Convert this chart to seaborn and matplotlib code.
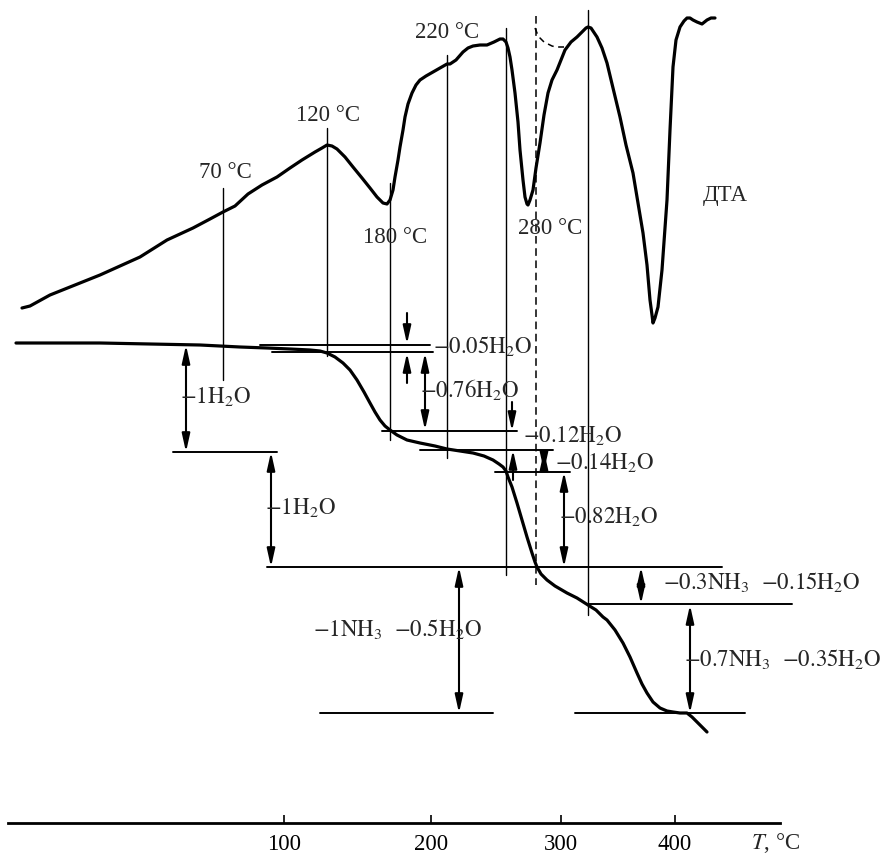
import numpy as np
import pandas as pd
import seaborn as sns
import matplotlib
matplotlib.use("Agg")
import matplotlib.pyplot as plt

# chart is a schematic thermogram: positions are in chart units (x along record, y down from top)
dta_x = [22, 30, 50, 75, 100, 120, 140, 167, 193, 210, 223, 235, 248, 262, 277, 290, 302, 315, 322, 327,
         332, 337, 345, 353, 362, 370, 377, 383, 387, 390, 393, 395, 398, 400, 403, 405, 408, 412, 416, 420,
         426, 433, 440, 447, 450, 456, 463, 468, 473, 480, 487, 494, 500, 503, 506, 508, 510, 512, 515, 518,
         520, 523, 525, 527, 528, 530, 533, 536, 540, 544, 548, 552, 557, 561, 565, 571, 577, 582, 586, 588,
         591, 597, 602, 607, 613, 620, 626, 633, 638, 643, 647, 650, 652, 653, 655, 658, 662, 667, 670, 673,
         676, 680, 684, 687, 690, 693, 697, 702, 707, 711, 715]
dta_y = [308, 306, 295, 285, 275, 266, 257, 240, 228, 219, 212, 206, 194, 185, 177, 168, 160, 152, 148, 145,
         146, 149, 157, 167, 178, 188, 197, 203, 204, 200, 190, 177, 160, 147, 130, 117, 104, 93, 85, 80,
         76, 72, 68, 64, 64, 60, 52, 48, 46, 45, 45, 42, 39, 39, 42, 48, 57, 70, 93, 122,
         150, 180, 197, 204, 205, 200, 190, 168, 143, 115, 93, 80, 70, 60, 50, 42, 37, 32, 28, 27,
         28, 37, 48, 63, 88, 117, 145, 173, 203, 233, 265, 300, 315, 323, 318, 307, 270, 200, 130, 67,
         40, 27, 21, 18, 18, 20, 22, 24, 20, 18, 18]

tg_x = [16, 60, 100, 150, 200, 240, 267, 290, 310, 320, 327, 335, 343, 350, 357, 364, 370, 375, 380, 385,
        390, 397, 407, 420, 435, 447, 460, 473, 484, 493, 499, 503, 506, 508, 510, 512, 517, 522, 527, 532,
        535, 537, 541, 547, 555, 567, 577, 588, 596, 603, 607, 615, 623, 630, 637, 642, 647, 653, 660, 667,
        673, 680, 687, 692, 697, 702, 707]
tg_y = [343, 343, 343, 344, 345, 347, 348, 349, 350, 351, 353, 357, 363, 370, 380, 392, 403, 412, 420, 426,
        430, 435, 440, 443, 446, 449, 451, 453, 456, 460, 464, 467, 471, 477, 482, 487, 503, 520, 537, 553,
        562, 567, 574, 580, 586, 593, 598, 605, 610, 617, 620, 630, 643, 657, 673, 684, 693, 702, 708, 711,
        712, 713, 713, 717, 722, 727, 732]

arc_x = [535, 537, 540, 544, 548, 552, 556, 560, 564]
arc_y = [28, 33, 38, 42, 44, 46, 47, 47, 47]

# vertical reference lines
vline_x = [223, 327, 390, 447, 506, 588]
vline_top = [188, 128, 183, 55, 28, 10]
vline_bottom = [380, 356, 440, 458, 575, 615]
dash_x, dash_top, dash_bottom = 536, 16, 585

temp_labels = ["70 °C", "120 °C", "180 °C", "220 °C", "280 °C"]
temp_label_x = [225, 328, 395, 447, 550]
temp_label_y = [172, 115, 237, 32, 228]

# horizontal step lines of the TG curve
hline_y = [345, 352, 431, 450, 472, 452, 567, 604, 713, 713]
hline_x0 = [260, 272, 382, 420, 495, 173, 267, 587, 320, 575]
hline_x1 = [430, 433, 517, 553, 570, 277, 722, 792, 493, 745]

# arrows: x, start, end, kind
arrow_x = [186, 271, 407, 407, 425, 512, 513, 544, 564, 641, 690, 459]
arrow_y0 = [345, 452, 313, 383, 353, 402, 480, 451, 472, 567, 605, 567]
arrow_y1 = [452, 567, 344, 353, 430, 431, 450, 471, 567, 604, 713, 713]
arrow_kind = ["both", "both", "one", "one", "both", "one", "one", "both", "both", "both", "both", "both"]

loss_labels = [r"$\mathrm{-1H_2O}$", r"$\mathrm{-1H_2O}$", r"$\mathrm{-0.05H_2O}$", r"$\mathrm{-0.76H_2O}$",
               r"$\mathrm{-0.12H_2O}$", r"$\mathrm{-0.14H_2O}$", r"$\mathrm{-0.82H_2O}$",
               r"$\mathrm{-0.3NH_3}$  $\mathrm{-0.15H_2O}$", r"$\mathrm{-0.7NH_3}$  $\mathrm{-0.35H_2O}$",
               r"$\mathrm{-1NH_3}$  $\mathrm{-0.5H_2O}$"]
loss_x = [180, 265, 433, 420, 523, 555, 559, 663, 684, 313]
loss_y = [397, 508, 347, 390, 436, 463, 517, 583, 660, 630]

tick_pos = [284, 431, 561, 675]
tick_labels = ["100", "200", "300", "400"]

sns.set_theme(style="white")
plt.rcParams["font.family"] = ["Liberation Serif", "DejaVu Serif"]
plt.rcParams["mathtext.fontset"] = "stix"
fs = 16.5

fig = plt.figure(figsize=(8.88, 8.57), dpi=100)
ax = fig.add_axes([0, 34 / 857, 1, 823 / 857])
ax.set_xlim(0, 888)
ax.set_ylim(823, 0)

dta = pd.DataFrame({"x": dta_x, "y": dta_y})
tg = pd.DataFrame({"x": tg_x, "y": tg_y})
sns.lineplot(data=dta, x="x", y="y", estimator=None, sort=False, color="black", lw=2.3, ax=ax)
sns.lineplot(data=tg, x="x", y="y", estimator=None, sort=False, color="black", lw=2.3, ax=ax)
ax.plot(arc_x, arc_y, color="black", lw=1.1, ls=(0, (4, 3)))

for x, t, b in zip(vline_x, vline_top, vline_bottom):
    ax.plot([x, x], [t, b], color="black", lw=1.0)
ax.plot([dash_x, dash_x], [dash_top, dash_bottom], color="black", lw=1.1, ls=(0, (5, 3)))

for y, x0, x1 in zip(hline_y, hline_x0, hline_x1):
    ax.plot([x0, x1], [y, y], color="black", lw=1.4)

for x, y0, y1, kind in zip(arrow_x, arrow_y0, arrow_y1, arrow_kind):
    style = "<|-|>" if kind == "both" else "-|>"
    ax.annotate("", xy=(x, y1), xytext=(x, y0),
                arrowprops=dict(arrowstyle=style + ",head_length=0.9,head_width=0.2",
                                color="black", lw=1.5, shrinkA=0, shrinkB=0))

for lab, x, y in zip(temp_labels, temp_label_x, temp_label_y):
    ax.text(x, y, lab, fontsize=fs, ha="center", va="center")
ax.text(725, 195, "ДТА", fontsize=fs, ha="center", va="center")

for lab, x, y in zip(loss_labels, loss_x, loss_y):
    ax.text(x, y, lab, fontsize=fs, ha="left", va="center")

for s in ["top", "right", "left"]:
    ax.spines[s].set_visible(False)
ax.spines["bottom"].set_bounds(8, 780)
ax.spines["bottom"].set_linewidth(2.0)
ax.spines["bottom"].set_color("black")
ax.set_xticks(tick_pos)
ax.set_xticklabels(tick_labels)
ax.set_yticks([])
ax.tick_params(axis="x", bottom=True, direction="in", length=6, width=1.2, pad=8,
               labelsize=fs, colors="black")
ax.set_xlabel("")
ax.set_ylabel("")
ax.text(776, 843, r"$T$, °C", fontsize=fs, ha="center", va="center", clip_on=False)

fig.savefig("out.png", dpi=100)
